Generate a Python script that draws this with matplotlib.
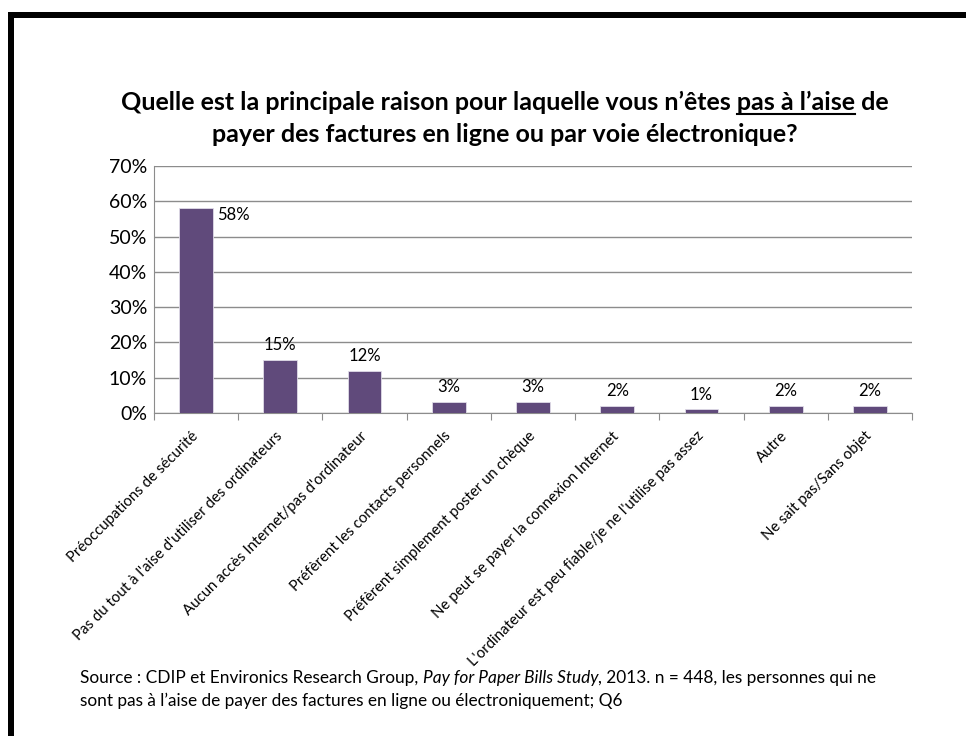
import matplotlib
matplotlib.use("Agg")
import matplotlib.pyplot as plt
from matplotlib.patches import Rectangle
from matplotlib.lines import Line2D

plt.rcParams['font.family'] = ['Lato', 'DejaVu Sans']

categories = [
    "Préoccupations de sécurité",
    "Pas du tout à l'aise d'utiliser des ordinateurs",
    "Aucun accès Internet/pas d'ordinateur",
    "Préfèrent les contacts personnels",
    "Préfèrent simplement poster un chèque",
    "Ne peut se payer la connexion Internet",
    "L'ordinateur est peu fiable/je ne l'utilise pas assez",
    "Autre",
    "Ne sait pas/Sans objet",
]
values = [58, 15, 12, 3, 3, 2, 1, 2, 2]
yticks = [0, 10, 20, 30, 40, 50, 60, 70]

title_pre = "Quelle est la principale raison pour laquelle vous n’êtes "
title_ul = "pas à l’aise"
title_post = " de"
title_line2 = "payer des factures en ligne ou par voie électronique?"

src_parts = [
    ("Source : CDIP et Environics Research Group, ", "normal"),
    ("Pay for Paper Bills Study", "italic"),
    (", 2013. n = 448, les personnes qui ne", "normal"),
]
src_line2 = "sont pas à l’aise de payer des factures en ligne ou électroniquement; Q6"

W, H = 966, 736
fig = plt.figure(figsize=(W / 100, H / 100), dpi=100)
fig.patch.set_facecolor("white")

# black frame (top and left)
fig.patches.append(Rectangle((8 / W, 1 - 18 / H), 1, 6 / H, transform=fig.transFigure,
                             facecolor="black", edgecolor="none"))
fig.patches.append(Rectangle((8 / W, 0), 6 / W, 1 - 12 / H, transform=fig.transFigure,
                             facecolor="black", edgecolor="none"))

ax = fig.add_axes([154 / W, 1 - 413 / H, 758 / W, 247 / H])
x = list(range(len(categories)))
ax.bar(x, values, width=0.4, color="#604A7B", edgecolor="#E0DCE8", linewidth=0.6, zorder=3)
ax.set_xlim(-0.5, len(categories) - 0.5)
ax.set_ylim(0, 70)
ax.set_yticks(yticks)
ax.set_yticklabels([f"{v}%" for v in yticks], fontsize=14)
ax.yaxis.grid(True, color="#8C8C8C", linewidth=1)
ax.set_axisbelow(True)
for s in ["top", "right"]:
    ax.spines[s].set_visible(False)
for s in ["left", "bottom"]:
    ax.spines[s].set_color("#8C8C8C")
ax.tick_params(axis="y", length=0, pad=5)
ax.set_xticks([i + 0.5 for i in range(-1, len(categories))], minor=False)
ax.set_xticklabels([])
ax.tick_params(axis="x", length=5, color="#8C8C8C", direction="out")
ax.set_xticks(x, minor=True)
ax.set_xticklabels(categories, minor=True, rotation=45, ha="right", va="center",
                   rotation_mode="anchor", fontsize=10.8)
ax.tick_params(axis="x", which="minor", length=0, pad=15)

for i, v in enumerate(values):
    if i == 0:
        ax.annotate(f"{v}%", (i + 0.2, v), xytext=(3, 1), textcoords="offset points",
                    ha="left", va="top", fontsize=12)
    else:
        ax.annotate(f"{v}%", (i, v), xytext=(0, 5), textcoords="offset points",
                    ha="center", va="bottom", fontsize=12)

# title with underlined segment
fig.canvas.draw()
r = fig.canvas.get_renderer()
tsize = 18

def width_of(s, **kw):
    t = fig.text(0, 0, s, **kw)
    w = t.get_window_extent(renderer=r).width
    t.remove()
    return w

full1 = title_pre + title_ul + title_post
w_full = width_of(full1, fontsize=tsize, fontweight="bold")
w_pre = width_of(title_pre, fontsize=tsize, fontweight="bold")
w_ul = width_of(title_ul, fontsize=tsize, fontweight="bold")
cx = 505
y1 = H - 110
fig.text(cx / W, y1 / H, full1, fontsize=tsize, fontweight="bold", ha="center",
         va="baseline")
x0 = cx - w_full / 2 + w_pre
fig.add_artist(Line2D([x0 / W, (x0 + w_ul) / W], [(y1 - 4) / H, (y1 - 4) / H],
                      transform=fig.transFigure, color="black", linewidth=1.5))
fig.text(cx / W, (H - 142) / H, title_line2, fontsize=tsize, fontweight="bold",
         ha="center", va="baseline")

# source note
ssize = 12.4
xs = 80
for txt, style in src_parts:
    fig.text(xs / W, (H - 683) / H, txt, fontsize=ssize, fontstyle=style, va="baseline")
    xs += width_of(txt, fontsize=ssize, fontstyle=style)
fig.text(80 / W, (H - 706) / H, src_line2, fontsize=ssize, va="baseline")

fig.savefig("out.png", dpi=100)
